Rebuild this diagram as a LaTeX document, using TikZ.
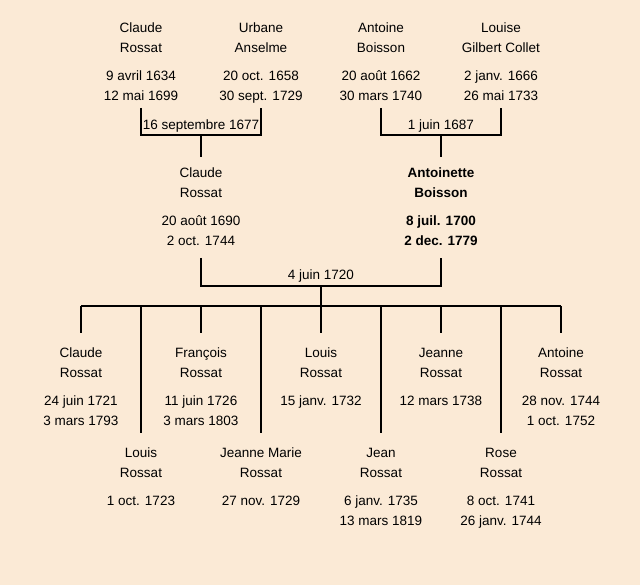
\documentclass[tikz,border=0pt]{standalone}
\usepackage{fontspec}
\setmainfont{Liberation Sans}
\definecolor{bgcol}{RGB}{251,234,214}
\begin{document}
\begin{tikzpicture}[x=1pt,y=-1pt,
  person/.style={align=center, font=\fontsize{13.5}{20}\selectfont, inner sep=0pt, anchor=north},
  wedding/.style={font=\fontsize{13.5}{20}\selectfont, inner sep=0pt},
  link/.style={line width=2pt, black, line join=miter}]
\fill[bgcol] (0,0) rectangle (640,585);
\useasboundingbox (0,0) rectangle (640,585);
% generation 1
\node[person] (p1) at (141,23) {Claude\\Rossat\\[8pt]9 avril 1634\\12 mai 1699};
\node[person] (p2) at (261,23) {Urbane\\Anselme\\[8pt]20 oct. 1658\\30 sept. 1729};
\node[person] (p3) at (381,23) {Antoine\\Boisson\\[8pt]20 août 1662\\30 mars 1740};
\node[person] (p4) at (501,23) {Louise\\Gilbert Collet\\[8pt]2 janv. 1666\\26 mai 1733};
\coordinate (t1) at (0,108);
\coordinate (m1) at (201,135);
\coordinate (m2) at (441,135);
\coordinate (t2) at (0,157);
\node[wedding] (l1) at (201,126) {16 septembre 1677};
\node[wedding] (l2) at (441,126) {1 juin 1687};
\draw[link] (p1 |- t1) |- (m1) -| (p2 |- t1);
\draw[link] (p3 |- t1) |- (m2) -| (p4 |- t1);
% generation 2
\node[person] (g1) at (201,168) {Claude\\Rossat\\[8pt]20 août 1690\\2 oct. 1744};
\node[person, font=\fontsize{13.5}{20}\selectfont\bfseries] (g2) at (441,168) {Antoinette\\Boisson\\[8pt]8 juil. 1700\\2 dec. 1779};
\draw[link] (m1) -- (g1 |- t2);
\draw[link] (m2) -- (g2 |- t2);
\coordinate (t3) at (0,258);
\coordinate (m3) at (321,286);
\coordinate (sib) at (321,306);
\node[wedding] (l3) at (321,276) {4 juin 1720};
\draw[link] (g1 |- t3) |- (m3) -| (g2 |- t3);
\draw[link] (m3) -- (sib);
% children
\node[person] (c1) at (81,348) {Claude\\Rossat\\[8pt]24 juin 1721\\3 mars 1793};
\node[person] (c2) at (141,448) {Louis\\Rossat\\[8pt]1 oct. 1723};
\node[person] (c3) at (201,348) {François\\Rossat\\[8pt]11 juin 1726\\3 mars 1803};
\node[person] (c4) at (261,448) {Jeanne Marie\\Rossat\\[8pt]27 nov. 1729};
\node[person] (c5) at (321,348) {Louis\\Rossat\\[8pt]15 janv. 1732};
\node[person] (c6) at (381,448) {Jean\\Rossat\\[8pt]6 janv. 1735\\13 mars 1819};
\node[person] (c7) at (441,348) {Jeanne\\Rossat\\[8pt]12 mars 1738};
\node[person] (c8) at (501,448) {Rose\\Rossat\\[8pt]8 oct. 1741\\26 janv. 1744};
\node[person] (c9) at (561,348) {Antoine\\Rossat\\[8pt]28 nov. 1744\\1 oct. 1752};
\coordinate (s1) at (0,333);
\coordinate (s2) at (0,433);
\draw[link] (c1 |- sib) -- (c9 |- sib);
\foreach \c in {c1,c3,c5,c7,c9} \draw[link] (\c |- sib) -- (\c |- s1);
\foreach \c in {c2,c4,c6,c8} \draw[link] (\c |- sib) -- (\c |- s2);
\end{tikzpicture}
\end{document}
